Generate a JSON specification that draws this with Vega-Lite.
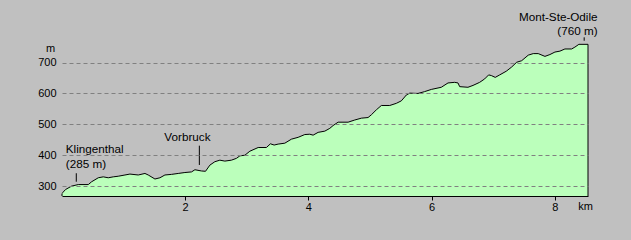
{
  "$schema": "https://vega.github.io/schema/vega-lite/v6.json",
  "width": 526,
  "height": 160,
  "autosize": {"type": "none"},
  "padding": {"left": 62, "top": 36, "right": 43, "bottom": 44},
  "background": "#c0c0c0",
  "config": {
    "view": {"stroke": null},
    "font": "Liberation Sans",
    "text": {"font": "Liberation Sans"}
  },
  "datasets": {
    "profile": [
      {"km": 0.0, "elev": 276}, {"km": 0.016, "elev": 280}, {"km": 0.058, "elev": 289},
      {"km": 0.156, "elev": 300}, {"km": 0.264, "elev": 305}, {"km": 0.427, "elev": 305},
      {"km": 0.48, "elev": 314}, {"km": 0.589, "elev": 327}, {"km": 0.67, "elev": 330},
      {"km": 0.751, "elev": 327}, {"km": 0.832, "elev": 330}, {"km": 0.913, "elev": 332},
      {"km": 1.022, "elev": 336}, {"km": 1.103, "elev": 339}, {"km": 1.238, "elev": 336},
      {"km": 1.347, "elev": 341}, {"km": 1.4, "elev": 336}, {"km": 1.509, "elev": 323},
      {"km": 1.59, "elev": 327}, {"km": 1.671, "elev": 336}, {"km": 1.778, "elev": 338},
      {"km": 1.887, "elev": 341}, {"km": 1.995, "elev": 344}, {"km": 2.103, "elev": 346},
      {"km": 2.158, "elev": 353}, {"km": 2.265, "elev": 349}, {"km": 2.33, "elev": 348},
      {"km": 2.401, "elev": 368}, {"km": 2.482, "elev": 379}, {"km": 2.563, "elev": 384},
      {"km": 2.644, "elev": 381}, {"km": 2.751, "elev": 384}, {"km": 2.833, "elev": 390},
      {"km": 2.888, "elev": 398}, {"km": 2.969, "elev": 400}, {"km": 3.05, "elev": 413},
      {"km": 3.185, "elev": 425}, {"km": 3.319, "elev": 425}, {"km": 3.384, "elev": 437},
      {"km": 3.444, "elev": 433}, {"km": 3.509, "elev": 436}, {"km": 3.618, "elev": 439},
      {"km": 3.725, "elev": 452}, {"km": 3.834, "elev": 458}, {"km": 3.942, "elev": 467},
      {"km": 4.023, "elev": 468}, {"km": 4.077, "elev": 465}, {"km": 4.158, "elev": 474},
      {"km": 4.267, "elev": 478}, {"km": 4.348, "elev": 487}, {"km": 4.401, "elev": 496},
      {"km": 4.483, "elev": 507}, {"km": 4.645, "elev": 507}, {"km": 4.753, "elev": 514},
      {"km": 4.861, "elev": 520}, {"km": 4.969, "elev": 522}, {"km": 5.023, "elev": 531},
      {"km": 5.104, "elev": 547}, {"km": 5.185, "elev": 561}, {"km": 5.321, "elev": 561},
      {"km": 5.428, "elev": 568}, {"km": 5.509, "elev": 576}, {"km": 5.591, "elev": 595},
      {"km": 5.646, "elev": 601}, {"km": 5.78, "elev": 600}, {"km": 5.889, "elev": 606},
      {"km": 5.996, "elev": 613}, {"km": 6.158, "elev": 620}, {"km": 6.267, "elev": 634},
      {"km": 6.376, "elev": 636}, {"km": 6.429, "elev": 634}, {"km": 6.457, "elev": 622},
      {"km": 6.591, "elev": 620}, {"km": 6.673, "elev": 626}, {"km": 6.781, "elev": 636},
      {"km": 6.862, "elev": 647}, {"km": 6.927, "elev": 660}, {"km": 6.97, "elev": 658},
      {"km": 7.034, "elev": 652}, {"km": 7.106, "elev": 660}, {"km": 7.213, "elev": 672},
      {"km": 7.297, "elev": 685}, {"km": 7.382, "elev": 701}, {"km": 7.463, "elev": 706},
      {"km": 7.57, "elev": 724}, {"km": 7.651, "elev": 729}, {"km": 7.732, "elev": 729},
      {"km": 7.841, "elev": 720}, {"km": 7.922, "elev": 726}, {"km": 8.003, "elev": 734},
      {"km": 8.084, "elev": 737}, {"km": 8.165, "elev": 744}, {"km": 8.274, "elev": 744},
      {"km": 8.327, "elev": 750}, {"km": 8.392, "elev": 759}, {"km": 8.54, "elev": 759}
    ],
    "edges": [
      {"km": 0.0, "elev": 276},
      {"km": 8.54, "elev": 759}
    ]
  },
  "encoding": {
    "x": {
      "field": "km", "type": "quantitative",
      "scale": {"domain": [0, 8.54], "nice": false, "zero": false},
      "axis": {
        "values": [2, 4, 6, 8], "format": "d", "labelOverlap": false,
        "grid": false, "domainColor": "black", "domainWidth": 1,
        "tickColor": "black", "tickSize": 4, "labelPadding": 1,
        "labelFont": "Liberation Sans", "labelFontSize": 11, "labelColor": "black",
        "title": "km", "titleFont": "Liberation Sans", "titleFontSize": 11, "titleFontWeight": "normal",
        "titleColor": "black", "titleX": 523, "titleY": 10, "titleAlign": "center", "titleBaseline": "middle",
        "zindex": 1
      }
    },
    "y": {
      "field": "elev", "type": "quantitative",
      "scale": {"domain": [268, 786], "nice": false, "zero": false},
      "axis": {
        "values": [300, 400, 500, 600, 700], "labelOverlap": false, "format": "d",
        "domain": false, "ticks": false, "labelPadding": 6,
        "labelFont": "Liberation Sans", "labelFontSize": 11, "labelColor": "black",
        "grid": true, "gridColor": "#808080", "gridDash": [4, 3], "gridWidth": 1, "gridOpacity": 1,
        "title": "m", "titleAngle": 0, "titleFont": "Liberation Sans", "titleFontSize": 11,
        "titleFontWeight": "normal", "titleColor": "black",
        "titleX": -12, "titleY": 12, "titleAlign": "center", "titleBaseline": "middle",
        "zindex": 1
      }
    }
  },
  "layer": [
    {
      "data": {"name": "profile"},
      "mark": {"type": "area", "color": "#bbffbb", "opacity": 1, "fillOpacity": 1, "clip": true, "line": {"color": "black", "strokeWidth": 1}},
      "encoding": {
        "y2": {"datum": 268}
      }
    },
    {
      "data": {"name": "edges"},
      "mark": {"type": "rule", "color": "black", "strokeWidth": 1},
      "encoding": {
        "y2": {"datum": 268}
      }
    },
    {
      "data": {"values": [{"km": 0.232, "elev": 285, "label": "Klingenthal\n(285 m)"}]},
      "layer": [
        {
          "mark": {"type": "rule", "color": "black", "strokeWidth": 1, "yOffset": -9, "y2Offset": -17.5},
          "encoding": {
            "y2": {"field": "elev"}
          }
        },
        {
          "mark": {"type": "text", "align": "left", "baseline": "alphabetic", "dx": -10.5, "dy": -37.5,
                   "fontSize": 11.7, "lineHeight": 14.5, "lineBreak": "\n", "color": "black"},
          "encoding": {
            "text": {"field": "label"}
          }
        }
      ]
    },
    {
      "data": {"values": [{"km": 2.23, "elev": 349, "label": "Vorbruck"}]},
      "layer": [
        {
          "mark": {"type": "rule", "color": "black", "strokeWidth": 1, "yOffset": -6, "y2Offset": -25.3},
          "encoding": {
            "y2": {"field": "elev"}
          }
        },
        {
          "mark": {"type": "text", "align": "left", "baseline": "alphabetic", "dx": -35, "dy": -30,
                   "fontSize": 11.7, "color": "black"},
          "encoding": {
            "text": {"field": "label"}
          }
        }
      ]
    },
    {
      "data": {"values": [{"km": 8.478, "elev": 760, "label": "Mont-Ste-Odile\n(760 m)"}]},
      "layer": [
        {
          "mark": {"type": "rule", "color": "black", "strokeWidth": 1, "yOffset": -3.3, "y2Offset": -6.7},
          "encoding": {
            "y2": {"field": "elev"}
          }
        },
        {
          "mark": {"type": "text", "align": "right", "baseline": "alphabetic", "dx": 13.4, "dy": -23.5,
                   "fontSize": 11.7, "lineHeight": 14, "lineBreak": "\n", "color": "black"},
          "encoding": {
            "text": {"field": "label"}
          }
        }
      ]
    }
  ]
}
